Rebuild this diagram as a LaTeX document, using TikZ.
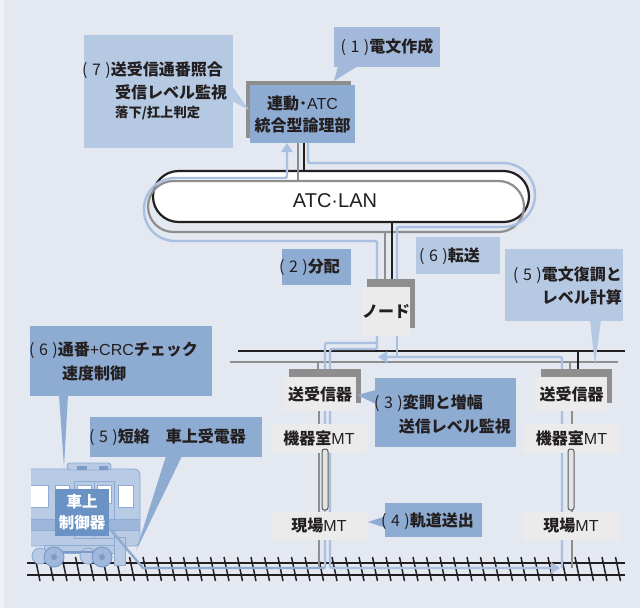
\documentclass[tikz,border=0pt]{standalone}
\usepackage{fontspec}
\setmainfont{Noto Sans CJK JP}
\newfontfamily\latinfont{Liberation Sans}
\usetikzlibrary{arrows.meta}

\definecolor{bg}{HTML}{E3E8F1}
\definecolor{edgestrip}{HTML}{F0F2F7}
\definecolor{calloutL}{HTML}{B6C9E3}
\definecolor{calloutM}{HTML}{8EABD2}
\definecolor{calloutT}{HTML}{A2B9DB}
\definecolor{route}{HTML}{A9C0E0}
\definecolor{ink}{HTML}{231F20}
\definecolor{shadowgrey}{HTML}{8E8E8E}
\definecolor{panel}{HTML}{EBEBEB}
\definecolor{cablegrey}{HTML}{5A5A5A}
\definecolor{cablefill}{HTML}{E4E4E4}
\definecolor{carbody}{HTML}{B8CAE4}
\definecolor{caredge}{HTML}{8EABD2}
\definecolor{carstripe}{HTML}{9CB5D9}
\definecolor{carwheel}{HTML}{9FB7DA}
\definecolor{cardark}{HTML}{7D9BC7}
\definecolor{ctrlbox}{HTML}{6A92C4}

\newcommand\stepno[1]{{\mdseries(\hspace{4.5pt}#1\hspace{4.5pt})}}
\newcommand\lat[1]{{\latinfont\mdseries #1}}

\begin{document}
\begin{tikzpicture}[x=1pt,y=-1pt,
  txt/.style={font=\bfseries\fontsize{16}{21}\selectfont, text=ink, inner sep=0pt},
  smalltxt/.style={font=\bfseries\fontsize{13.3}{16}\selectfont, text=ink, inner sep=0pt},
  panelbox/.style={txt, fill=panel},
  route/.style={draw=route, line width=2.4pt, rounded corners=2pt},
  feed/.style={draw=caredge, line width=2.4pt},
  arrowend/.style={-{Triangle[length=9pt,width=11pt]}},
  blackline/.style={draw=ink, line width=2.2pt},
  greyline/.style={draw=shadowgrey, line width=2.6pt},
  carpart/.style={fill=carbody, draw=caredge, line width=0.9pt},
  carwin/.style={fill=white, draw=caredge, line width=0.8pt},
  cable/.style={fill=cablefill, draw=cablegrey, line width=1pt, rounded corners=2.5pt},
]
\useasboundingbox (0,0) rectangle (640,608);
\fill[bg] (0,0) rectangle (640,608);
\fill[edgestrip] (0,0) rectangle (4,608);

% ---------------- track ----------------
\draw[blackline, line width=2pt] (27,563) -- (625,563);
\draw[blackline, line width=2pt] (27,575) -- (625,575);
\foreach \i in {0,...,43}
  \draw[ink, line width=1.5pt] ({35+13.5*\i},557) -- ({40+13.5*\i},581);

% ---------------- train ----------------
\begin{scope}
  \clip (31,440) rectangle (160,600);
  \draw[carpart, rounded corners=6pt] (10,469) rectangle (140,546);
  \draw[carwin] (22,485) rectangle (48,507);
  \draw[carwin] (55,485) rectangle (69,507);
  \draw[carwin] (118,485) rectangle (133,507);
  \draw[caredge, line width=0.9pt] (74,481) rectangle (94,538) (94,481) rectangle (114,538);
  \draw[carwin] (77,485) rectangle (91,503) (97,485) rectangle (111,503);
  \fill[carstripe] (10,519) rectangle (139.5,530);
  \draw[caredge, line width=0.8pt] (10,519) -- (139.5,519) (10,530) -- (139.5,530);
\end{scope}
\draw[carpart, rounded corners=3pt] (67,463) rectangle (111,470);
\fill[cardark] (77,466) rectangle (87,469.5);
\fill[cardark] (99,466) rectangle (108,469.5);
\draw[carpart] (44,545) rectangle (114,553);
\draw[carpart] (40,556) circle (8) (88,556) circle (8);
\draw[cardark, line width=2pt] (54,552) -- (102,552);
\draw[fill=carwheel, draw=cardark, line width=1pt] (54,557) circle (10) (102,557) circle (10);
\fill[cardark] (54,557) circle (3) (102,557) circle (3);
\draw[carpart] (114,537) rectangle (125,565);
\node[fill=ctrlbox, minimum width=54pt, minimum height=47pt, inner sep=0pt,
      text=white, align=center, font=\bfseries\fontsize{15.5}{21}\selectfont]
      (ctrl) at (82,512.5) {車上\\制御器};

% ---------------- ATC-LAN ----------------
\node[draw=ink, line width=2.2pt, fill=white, rounded corners=25.5pt,
      minimum width=376pt, minimum height=51pt, inner sep=0pt] (lan) at (341,196.5) {};
\draw[draw=shadowgrey, line width=2.2pt, rounded corners=25.5pt] (148,181) rectangle (524,232);
\node[font=\latinfont\fontsize{20}{24}\selectfont, text=ink, inner sep=0pt] (lantext) at (335,201) {ATC·LAN};

% ---------------- named points of the wiring ----------------
\coordinate (lgB1) at (304,143); \coordinate (lnB1) at (304,171);
\coordinate (lgG1) at (298,138); \coordinate (lnG1) at (298,181);
\coordinate (lnB2) at (392,222); \coordinate (ndB)  at (392,280);
\coordinate (lnG2) at (385,232); \coordinate (ndG)  at (385,280);
\coordinate (busBw) at (238,351); \coordinate (busBe) at (625,351);
\coordinate (busGw) at (230,362); \coordinate (busGe) at (618,362);
\coordinate (txLg)  at (318,362); \coordinate (txLtop) at (318,370);
\coordinate (txRb)  at (578,351); \coordinate (txRbt)  at (578,370);
\coordinate (txRg)  at (570,362); \coordinate (txRgt)  at (570,370);
\coordinate (colLtop) at (319,411); \coordinate (colLbot) at (319,568);
\coordinate (colRtop) at (572,411); \coordinate (colRbot) at (572,568);

% backbone connections
\draw[greyline] (lgG1) -- (lnG1);
\draw[blackline] (lgB1) -- (lnB1);
\draw[greyline] (lnG2) -- (ndG);
\draw[blackline] (lnB2) -- (ndB);
\draw[blackline] (busBw) -- (busBe);
\draw[greyline] (busGw) -- (busGe);
\draw[greyline] (txLg) -- (txLtop);
\draw[blackline] (txRb) -- (txRbt);
\draw[greyline] (txRg) -- (txRgt);
\draw[greyline] (colLtop) -- (colLbot);
\draw[greyline] (colRtop) -- (colRbot);

% ---------------- signal routes ----------------
% node -> around the LAN (left) -> logic unit
\coordinate (rA0) at (377,287); \coordinate (rA1) at (377,241); \coordinate (rA2) at (200,241);
\coordinate (rA3) at (144,241); \coordinate (rA4) at (144,178); \coordinate (rA5) at (250,178);
\coordinate (rA6) at (287,178); \coordinate (rA7) at (287,143);
\draw[route] (rA0) -- (rA1) -- (rA2);
\draw[route, rounded corners=31pt] (rA2) -- (rA3) -- (rA4) -- (rA5);
\draw[route, arrowend] (rA5) -- (rA6) -- (rA7);
% logic unit -> around the LAN (right) -> node
\coordinate (rB0) at (308,143); \coordinate (rB1) at (308,163); \coordinate (rB2) at (460,163);
\coordinate (rB3) at (535,163); \coordinate (rB4) at (535,227); \coordinate (rB5) at (460,227);
\coordinate (rB6) at (397,227); \coordinate (rB7) at (397,287);
\draw[route] (rB0) -- (rB1) -- (rB2);
\draw[route, rounded corners=32pt] (rB2) -- (rB3) -- (rB4) -- (rB5);
\draw[route] (rB5) -- (rB6) -- (rB7);
% node -> left transceiver, feed from the car
\coordinate (rC0) at (377,336); \coordinate (rC1) at (377,343); \coordinate (rC2) at (325,343);
\coordinate (rC3) at (325,568);
\draw[route] (rC0) -- (rC1) -- (rC2) -- (rC3);
\coordinate (ctrlout) at (110,529); \coordinate (fd1) at (143,568);
\draw[feed] (ctrlout) -- (fd1) -- (rC3);
% node -> left field MT -> rail -> right side
\coordinate (rD0) at (377,349); \coordinate (rD1) at (330,349); \coordinate (rD2) at (330,568);
\coordinate (rD3) at (560,568);
\draw[route, arrowend] (rC1) -- (rD0) -- (rD1) -- (rD2) -- (rD3);
% right side -> node
\coordinate (rE0) at (562,568); \coordinate (rE1) at (562,357); \coordinate (rE2) at (378,357);
\coordinate (rE3) at (397,336);  \coordinate (rE4) at (397,357);
\draw[route, arrowend] (rE0) -- (rE1) -- (rE2);
\draw[route] (rE3) -- (rE4);

% ---------------- equipment boxes ----------------
\fill[shadowgrey] (246,81) rectangle (351,138);
\node[txt, fill=calloutM, minimum width=105pt, minimum height=58pt, align=center,
      font=\bfseries\fontsize{16}{22}\selectfont] (logic) at (302.5,114) {連動･\lat{ATC}\\統合型論理部};

\fill[shadowgrey] (367,279) rectangle (415,328);
\node[panelbox, minimum width=48pt, minimum height=49pt] (node) at (386,311.5) {ノード};

\fill[shadowgrey] (289,369) rectangle (361,403);
\node[panelbox, minimum width=72pt, minimum height=34pt] (txL) at (320,394) {送受信器};
\fill[shadowgrey] (541,369) rectangle (612,403);
\node[panelbox, minimum width=71pt, minimum height=34pt] (txR) at (571.5,394) {送受信器};

\node[panelbox, minimum width=96pt, minimum height=29pt] (mtRoomL) at (319,438.5) {機器室\lat{MT}};
\node[panelbox, minimum width=95pt, minimum height=29pt] (mtRoomR) at (571.5,438.5) {機器室\lat{MT}};
\node[panelbox, minimum width=96pt, minimum height=28pt] (mtSiteL) at (319,526) {現場\lat{MT}};
\node[panelbox, minimum width=96pt, minimum height=28pt] (mtSiteR) at (571,526) {現場\lat{MT}};

\draw[cable] (322,449) rectangle (328,510);
\draw[cable] (568,449) rectangle (574,510);

% ---------------- callouts ----------------
% (1)
\fill[calloutT] (334,27) rectangle (440,67);
\fill[calloutT] (338,66) -- (334,81) -- (358,66) -- cycle;
\node[txt] (c1) at (387,47) {\stepno{1}電文作成};
% (7)
\fill[calloutL] (84,35) rectangle (233,148);
\fill[calloutL] (232,86) -- (249,110) -- (232,101) -- cycle;
\node[txt, anchor=west] (c7a) at (82,70) {\stepno{7}送受信通番照合};
\node[txt, anchor=west] (c7b) at (115,92) {受信レベル監視};
\node[smalltxt, anchor=west] (c7c) at (115,113) {落下/扛上判定};
% (2)
\fill[calloutM] (282,249) rectangle (351,285);
\node[txt, anchor=west] (c2) at (279,267) {\stepno{2}分配};
% (6) transfer
\fill[calloutL] (416,237) rectangle (500,274);
\node[txt, anchor=west] (c6t) at (419,256) {\stepno{6}転送};
% (5) demodulation
\fill[calloutL] (505,249) rectangle (623,321);
\fill[calloutL] (590,320) -- (595,365) -- (601,320) -- cycle;
\node[txt, anchor=east] (c5a) at (622,275) {\stepno{5}電文復調と};
\node[txt, anchor=east] (c5b) at (622,297) {レベル計算};
% (3)
\fill[calloutM] (375,378) rectangle (516,447);
\fill[calloutM] (376,390) -- (357,395) -- (376,404) -- cycle;
\node[txt, anchor=west] (c3a) at (374,403) {\stepno{3}変調と増幅};
\node[txt, anchor=east] (c3b) at (511,426) {送信レベル監視};
% (4)
\fill[calloutM] (385,503) rectangle (482,537);
\fill[calloutM] (386,516) -- (368,522) -- (386,528) -- cycle;
\node[txt, anchor=west] (c4) at (381,521) {\stepno{4}軌道送出};
% (6) check
\fill[calloutM] (30,326) rectangle (212,396);
\fill[calloutM] (59,395) -- (64,467) -- (68,395) -- cycle;
\node[txt, anchor=west] (c6a) at (29,350) {\stepno{6}通番\lat{+CRC}チェック};
\node[txt, anchor=west] (c6b) at (62,373) {速度制御};
% (5) short circuit
\fill[calloutM] (90,417) rectangle (262,457);
\fill[calloutM] (166,456) -- (136,551) -- (182,456) -- cycle;
\node[txt, anchor=west] (c5s) at (89,437) {\stepno{5}短絡　車上受電器};

\end{tikzpicture}
\end{document}
